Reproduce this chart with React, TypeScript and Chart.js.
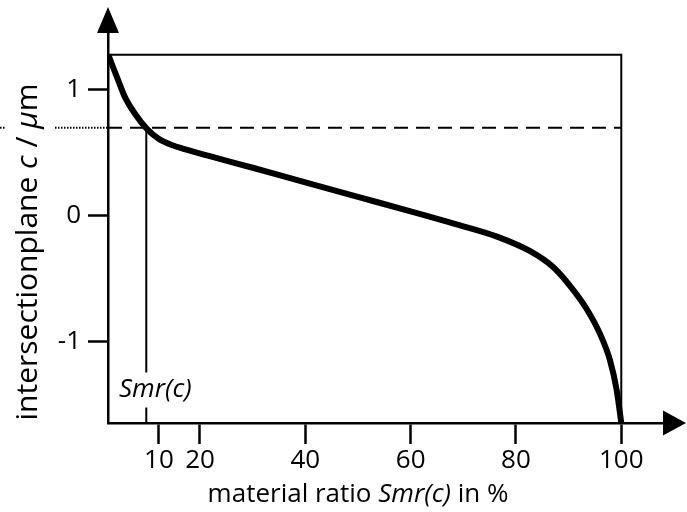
import React, { useEffect, useRef } from "react";
import { Chart, registerables } from "chart.js";

Chart.register(...registerables);

// ---- data ----
const X_TICKS = [12.2, 20, 40, 60, 80, 100];
const X_TICK_LABELS = ["10", "20", "40", "60", "80", "100"];
const Y_TICKS = [1, 0, -1];
const Y_TICK_LABELS = ["1", "0", "-1"];

const CURVE_X = [2.6, 3.4, 4.48, 5.75, 7.65, 9.87, 12.08, 14.62, 17.77, 22.2, 30, 40, 50, 60, 70, 76.4, 82.7, 87.0, 90.26, 93.43, 95.96, 97.86, 99.13, 100];
const CURVE_Y = [1.28, 1.19, 1.075, 0.943, 0.811, 0.693, 0.614, 0.562, 0.522, 0.47, 0.382, 0.265, 0.15, 0.036, -0.083, -0.165, -0.281, -0.405, -0.556, -0.74, -0.938, -1.148, -1.385, -1.646];

const BOX_X = [2.53, 100, 100];
const BOX_Y = [1.28, 1.28, -1.646];

const C_LEVEL = 0.7; // intersection plane c
const SMR_VALUE = 9.8; // Smr(c)
const SMR_GAP = [-1.245, -1.522];

const X_MIN = 2.53;
const X_MAX = 109.25;
const Y_MIN = -1.646;
const Y_MAX = 1.535;

const FONT = "'Open Sans', 'DejaVu Sans', sans-serif";

type Part = { t: string; i?: boolean };

function drawRich(ctx: CanvasRenderingContext2D, parts: Part[], cx: number, cy: number, size: number) {
  let total = 0;
  const widths = parts.map((p) => {
    ctx.font = `${p.i ? "italic " : ""}${size}px ${FONT}`;
    const w = ctx.measureText(p.t).width;
    total += w;
    return w;
  });
  let x = cx - total / 2;
  ctx.textBaseline = "middle";
  ctx.textAlign = "left";
  parts.forEach((p, k) => {
    ctx.font = `${p.i ? "italic " : ""}${size}px ${FONT}`;
    ctx.fillText(p.t, x, cy);
    x += widths[k];
  });
}

const decorPlugin = {
  id: "decor",
  afterDraw(chart: any) {
    const ctx: CanvasRenderingContext2D = chart.ctx;
    const { left, bottom } = chart.chartArea;
    const xs = chart.scales.x;
    const ys = chart.scales.y;
    ctx.save();
    ctx.fillStyle = "#000";
    ctx.strokeStyle = "#000";
    // arrows
    ctx.beginPath();
    ctx.moveTo(left, 7);
    ctx.lineTo(left - 11, 33);
    ctx.lineTo(left + 11, 33);
    ctx.closePath();
    ctx.fill();
    ctx.beginPath();
    ctx.moveTo(686, bottom);
    ctx.lineTo(663, bottom - 12.5);
    ctx.lineTo(663, bottom + 12.5);
    ctx.closePath();
    ctx.fill();
    // dotted line left of axis
    const yc = ys.getPixelForValue(C_LEVEL);
    ctx.lineWidth = 2;
    ctx.setLineDash([1.5, 1.5]);
    ctx.beginPath();
    ctx.moveTo(55, yc);
    ctx.lineTo(left, yc);
    ctx.moveTo(0, yc);
    ctx.lineTo(6, yc);
    ctx.stroke();
    ctx.setLineDash([]);
    // Smr(c) label
    const sx = xs.getPixelForValue(SMR_VALUE);
    const sy = ys.getPixelForValue((SMR_GAP[0] + SMR_GAP[1]) / 2);
    drawRich(ctx, [{ t: "Smr(c)", i: true }], sx + 9, sy, 26);
    // axis titles
    drawRich(
      ctx,
      [{ t: "material ratio " }, { t: "Smr(c)", i: true }, { t: " in %" }],
      358,
      495,
      26
    );
    ctx.translate(28, 252);
    ctx.rotate(-Math.PI / 2);
    drawRich(
      ctx,
      [{ t: "intersectionplane " }, { t: "c", i: true }, { t: " / " }, { t: "μ", i: true }, { t: "m" }],
      0,
      0,
      30
    );
    ctx.restore();
  },
};

export default function App() {
  const ref = useRef<HTMLCanvasElement>(null);
  useEffect(() => {
    if (!ref.current) return;
    const curve = CURVE_X.map((x, i) => ({ x, y: CURVE_Y[i] }));
    const box = BOX_X.map((x, i) => ({ x, y: BOX_Y[i] }));
    const dashed = [
      { x: X_MIN, y: C_LEVEL },
      { x: 100, y: C_LEVEL },
    ];
    const smr = [
      { x: SMR_VALUE, y: C_LEVEL },
      { x: SMR_VALUE, y: SMR_GAP[0] },
      { x: SMR_VALUE, y: null },
      { x: SMR_VALUE, y: SMR_GAP[1] },
      { x: SMR_VALUE, y: Y_MIN },
    ];
    const chart = new Chart(ref.current, {
      type: "line",
      data: {
        datasets: [
          { data: box as any, borderColor: "#000", borderWidth: 2, pointRadius: 0, tension: 0 },
          { data: dashed as any, borderColor: "#000", borderWidth: 2, borderDash: [14, 8], pointRadius: 0 },
          { data: smr as any, borderColor: "#000", borderWidth: 2, pointRadius: 0, spanGaps: false },
          {
            data: curve as any,
            borderColor: "#000",
            borderWidth: 6,
            pointRadius: 0,
            cubicInterpolationMode: "monotone",
            borderCapStyle: "butt",
          },
        ],
      },
      options: {
        animation: false,
        responsive: false,
        events: [],
        layout: { padding: { left: 0, top: 20, right: 17, bottom: 0 } },
        plugins: { legend: { display: false }, tooltip: { enabled: false }, title: { display: false } },
        scales: {
          x: {
            type: "linear",
            min: X_MIN,
            max: X_MAX,
            afterBuildTicks: (s: any) => {
              s.ticks = X_TICKS.map((v) => ({ value: v }));
            },
            afterFit: (s: any) => {
              s.height = 89;
            },
            ticks: {
              callback: (v: any) => X_TICK_LABELS[X_TICKS.indexOf(v)],
              font: { family: FONT, size: 26 },
              color: "#000",
              padding: 1,
              maxRotation: 0,
              autoSkip: false,
            },
            grid: { drawOnChartArea: false, drawTicks: true, tickLength: 21, tickWidth: 2.5, tickColor: "#000" },
            border: { display: true, color: "#000", width: 2.5 },
          },
          y: {
            type: "linear",
            min: Y_MIN,
            max: Y_MAX,
            afterBuildTicks: (s: any) => {
              s.ticks = Y_TICKS.map((v) => ({ value: v }));
            },
            afterFit: (s: any) => {
              s.width = 108;
            },
            ticks: {
              callback: (v: any) => Y_TICK_LABELS[Y_TICKS.indexOf(v)],
              font: { family: FONT, size: 26 },
              color: "#000",
              padding: 7,
              autoSkip: false,
            },
            grid: { drawOnChartArea: false, drawTicks: true, tickLength: 20, tickWidth: 2.5, tickColor: "#000" },
            border: { display: true, color: "#000", width: 2.5 },
          },
        },
      },
      plugins: [decorPlugin],
    });
    return () => chart.destroy();
  }, []);
  return (
    <div style={{ position: "fixed", left: 0, top: 0, width: 687, height: 512, background: "#fff" }}>
      <canvas ref={ref} width={687} height={512} style={{ display: "block" }} />
    </div>
  );
}
